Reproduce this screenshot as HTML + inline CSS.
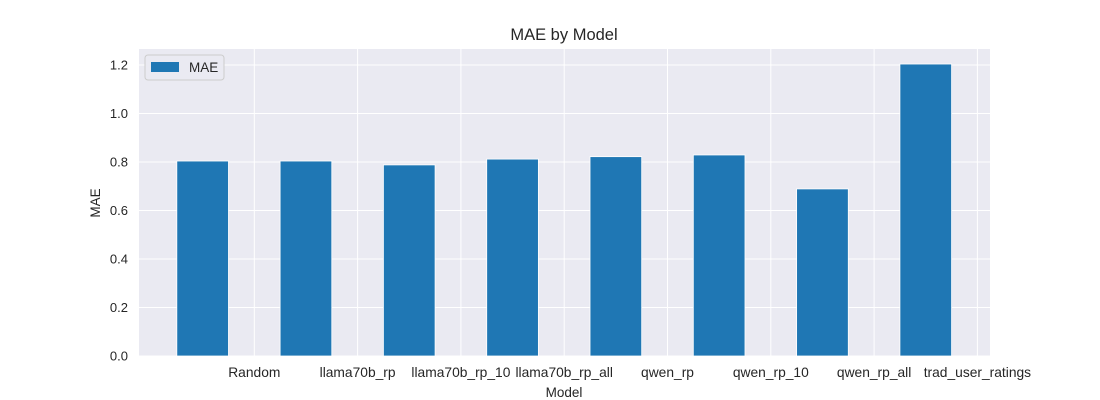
<!DOCTYPE html>
<html><head><meta charset="utf-8"><style>
body{margin:0;background:#fff;}
svg{display:block;font-family:"Liberation Sans","DejaVu Sans",sans-serif;}
</style></head><body>
<svg id="chart" width="1100" height="400" viewBox="0 0 1100 400">
<rect x="0" y="0" width="1100" height="400" fill="#fff"/>
<rect x="139" y="49" width="851" height="307" fill="#eaeaf2"/>
<g id="grid"></g>
<g id="bars"></g>
<g id="xt"></g>
<g id="yt"></g>
<text x="564" y="40" text-anchor="middle" font-size="16.5" fill="#262626">MAE by Model</text>
<text x="564" y="397" text-anchor="middle" font-size="13.5" fill="#262626">Model</text>
<text transform="translate(100,203) rotate(-90)" text-anchor="middle" font-size="13.5" fill="#262626">MAE</text>
<g>
<rect x="145" y="55" width="79" height="25" rx="3" fill="#eaeaf2" stroke="#cccccc" stroke-width="1"/>
<rect x="151" y="62" width="28" height="10" fill="#1f77b4"/>
<text x="189" y="72" font-size="13.5" fill="#262626">MAE</text>
</g>
</svg>
<script>
const categories=["Random","llama70b_rp","llama70b_rp_10","llama70b_rp_all","qwen_rp","qwen_rp_10","qwen_rp_all","trad_user_ratings"];
const maeValues=[0.804,0.804,0.788,0.812,0.822,0.829,0.689,1.204];
const yTicks=[0,0.2,0.4,0.6,0.8,1.0,1.2];
const yTickLabels=["0.0","0.2","0.4","0.6","0.8","1.0","1.2"];
const NS="http://www.w3.org/2000/svg";
const X0=254.3,DX=103.3,Y0=356,KY=242.5;
const xs=i=>X0+DX*i;
const ys=v=>Y0-KY*v;
function mk(t,a,p){const e=document.createElementNS(NS,t);for(const k in a)e.setAttribute(k,a[k]);p.appendChild(e);return e;}
const g=document.getElementById('grid'),b=document.getElementById('bars'),xt=document.getElementById('xt'),yt=document.getElementById('yt');
yTicks.forEach((v,i)=>{
 const l=mk('line',{x1:139,x2:990,y1:ys(v),y2:ys(v),stroke:'#fff','stroke-width':1},g);
 
 
 const t=mk('text',{x:128,y:ys(v)+4.5,'text-anchor':'end','font-size':13,fill:'#262626'},yt);
 t.textContent=yTickLabels[i];
 
 
});
categories.forEach((c,i)=>{
 const l=mk('line',{x1:xs(i),x2:xs(i),y1:49,y2:356,stroke:'#fff','stroke-width':1},g);
 
 
 const cx=xs(i-0.5),w=DX*0.5;
 const r=mk('rect',{x:cx-w/2,y:ys(maeValues[i]),width:w,height:Y0-ys(maeValues[i]),fill:'#1f77b4',stroke:'#fff','stroke-width':0.8},b);
 
 
 const t=mk('text',{x:xs(i),y:377,'text-anchor':'middle','font-size':13.8,fill:'#262626'},xt);
 t.textContent=c;
 
 
});
</script>
</body></html>
